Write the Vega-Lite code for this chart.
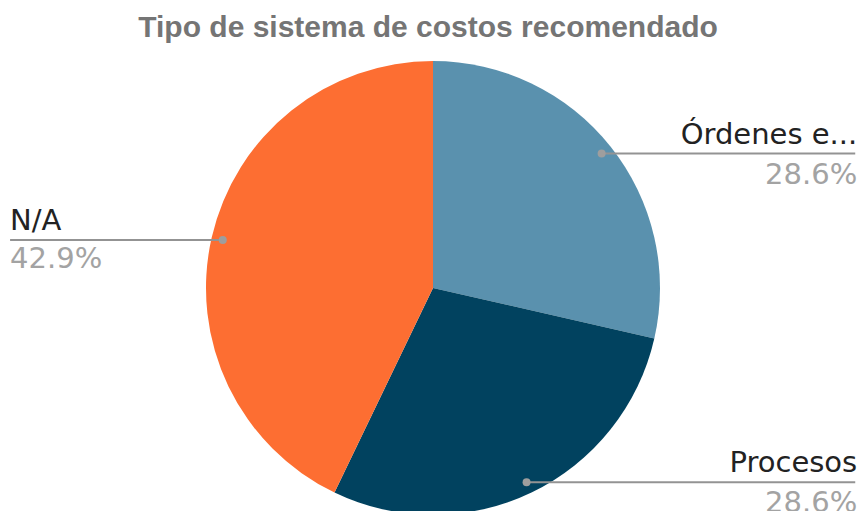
{
  "$schema": "https://vega.github.io/schema/vega-lite/v6.json",
  "width": 850,
  "height": 454,
  "autosize": {"type": "none"},
  "padding": {"left": 8, "top": 61, "right": 2, "bottom": 0},
  "background": "#ffffff",
  "config": {"view": {"stroke": null}},
  "title": {
    "text": "Tipo de sistema de costos recomendado",
    "font": "Liberation Sans",
    "fontSize": 30,
    "fontWeight": "bold",
    "color": "#757575",
    "anchor": "middle",
    "frame": "group",
    "baseline": "alphabetic",
    "offset": -6,
    "dx": -5
  },
  "data": {
    "values": [
      {"categoria": "Órdenes e...", "valor": 2, "orden": 1},
      {"categoria": "Procesos", "valor": 2, "orden": 2},
      {"categoria": "N/A", "valor": 3, "orden": 3}
    ]
  },
  "transform": [
    {"joinaggregate": [{"op": "sum", "field": "valor", "as": "total"}]},
    {"window": [{"op": "sum", "field": "valor", "as": "cum"}], "sort": [{"field": "orden"}]},
    {"calculate": "datum.valor / datum.total", "as": "frac"},
    {"calculate": "(datum.cum - datum.valor / 2) / datum.total * 2 * PI", "as": "mid"},
    {"calculate": "0.95 * sin(datum.mid)", "as": "px"},
    {"calculate": "0.95 * cos(datum.mid)", "as": "py"},
    {"calculate": "datum.px > 0 ? 1 : -1", "as": "side"},
    {"calculate": "datum.side > 0 ? datum.px : -1.863", "as": "lx"},
    {"calculate": "datum.side > 0 ? 1.86 : datum.px", "as": "rx"}
  ],
  "layer": [
    {
      "mark": {"type": "arc", "outerRadius": 227, "strokeWidth": 0},
      "encoding": {
        "theta": {"field": "valor", "type": "quantitative", "stack": true},
        "order": {"field": "orden", "type": "ordinal"},
        "color": {
          "field": "categoria",
          "type": "nominal",
          "scale": {"domain": ["Órdenes e...", "Procesos", "N/A"], "range": ["#5a91ae", "#01425f", "#fd6e32"]},
          "legend": null
        }
      }
    },
    {
      "mark": {"type": "rule", "color": "#939393", "strokeWidth": 2},
      "encoding": {
        "x": {"field": "lx", "type": "quantitative", "scale": {"domain": [-1.8722, 1.8722], "nice": false, "zero": false}, "axis": null},
        "x2": {"field": "rx"},
        "y": {"field": "py", "type": "quantitative", "scale": {"domain": [-1, 1], "nice": false, "zero": false}, "axis": null}
      }
    },
    {
      "mark": {"type": "point", "filled": true, "size": 64, "color": "#9e9e9e", "opacity": 1},
      "encoding": {
        "x": {"field": "px", "type": "quantitative"},
        "y": {"field": "py", "type": "quantitative"}
      }
    },
    {
      "transform": [{"filter": "datum.side > 0"}],
      "mark": {"type": "text", "align": "right", "baseline": "alphabetic", "dx": 2, "dy": -10, "font": "DejaVu Sans", "fontSize": 29, "color": "#222222"},
      "encoding": {
        "x": {"field": "rx", "type": "quantitative"},
        "y": {"field": "py", "type": "quantitative"},
        "text": {"field": "categoria"}
      }
    },
    {
      "transform": [{"filter": "datum.side > 0"}],
      "mark": {"type": "text", "align": "right", "baseline": "alphabetic", "dx": 2, "dy": 30, "font": "DejaVu Sans", "fontSize": 29, "color": "#a3a3a3"},
      "encoding": {
        "x": {"field": "rx", "type": "quantitative"},
        "y": {"field": "py", "type": "quantitative"},
        "text": {"field": "frac", "type": "quantitative", "format": ".1%"}
      }
    },
    {
      "transform": [{"filter": "datum.side < 0"}],
      "mark": {"type": "text", "align": "left", "baseline": "alphabetic", "dx": 0, "dy": -10, "font": "DejaVu Sans", "fontSize": 29, "color": "#222222"},
      "encoding": {
        "x": {"field": "lx", "type": "quantitative"},
        "y": {"field": "py", "type": "quantitative"},
        "text": {"field": "categoria"}
      }
    },
    {
      "transform": [{"filter": "datum.side < 0"}],
      "mark": {"type": "text", "align": "left", "baseline": "alphabetic", "dx": 0, "dy": 28, "font": "DejaVu Sans", "fontSize": 29, "color": "#a3a3a3"},
      "encoding": {
        "x": {"field": "lx", "type": "quantitative"},
        "y": {"field": "py", "type": "quantitative"},
        "text": {"field": "frac", "type": "quantitative", "format": ".1%"}
      }
    }
  ]
}
